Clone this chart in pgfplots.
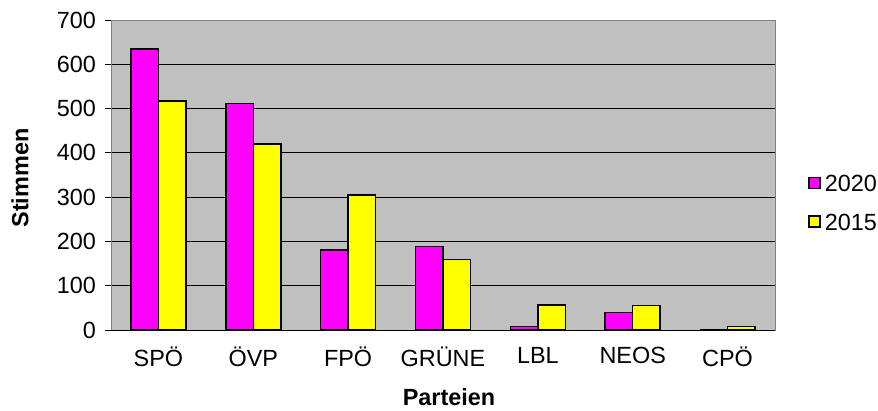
\documentclass[border=0pt]{standalone}
\usepackage{fontspec}
\setmainfont{Liberation Sans}
\usepackage{pgfplots}
\pgfplotsset{compat=1.18}
\definecolor{bgc}{HTML}{C0C0C0}
\definecolor{mag}{HTML}{FF00FF}
\definecolor{yel}{HTML}{FFFF00}
\begin{document}
\fontsize{23.5}{27}\selectfont
\begin{tikzpicture}
\begin{axis}[
  at={(0,0)}, anchor=south west,
  scale only axis, width=664bp, height=310bp,
  ybar=0pt, bar width=27.5bp,
  xmin=-0.5, xmax=6.5, ymin=0, ymax=700,
  xtick={0,...,6},
  xticklabels={SPÖ,ÖVP,FPÖ,GRÜNE,LBL,NEOS,CPÖ},
  major x tick style={draw=none},
  extra x ticks={-0.5,0.5,...,6.5},
  extra x tick labels={},
  extra x tick style={major tick length=6bp, tick style={black,line width=0.8pt}, grid=none},
  ytick={0,100,...,700},
  ymajorgrids,
  grid style={black, line width=0.8pt},
  tick align=outside, xtick pos=bottom, ytick pos=left,
  major tick length=6bp,
  tick style={black, line width=0.8pt},
  axis background/.style={fill=bgc},
  axis line style={gray, line width=0.8pt},
  /pgf/number format/assume math mode=true,
  tick label style={font=\fontsize{23.5}{27}\selectfont},
  xticklabel style={yshift=-3bp},
  yticklabel style={xshift=-1bp},
  ylabel={Stimmen}, xlabel={Parteien},
  label style={font=\bfseries\fontsize{23.5}{27}\selectfont},
  ylabel style={at={(axis description cs:-0.137,0.49)}, anchor=center},
  xlabel style={at={(axis description cs:0.509,-0.216)}, anchor=center},
  legend image code/.code={\draw[#1,line width=1.4bp] (0bp,-5bp) rectangle (11bp,6bp);},
  legend style={at={(axis description cs:1.05,0.41)}, anchor=west, draw=none, fill=none,
    font=\fontsize{23.5}{27}\selectfont, row sep=22bp, inner sep=0pt,
    nodes={inner sep=0bp, text depth=0bp},
    /tikz/every odd column/.style={column sep=4bp}},
  legend cell align=left,
]
\addplot[fill=mag, draw=black, line width=1.5bp] coordinates {(0,635) (1,511) (2,181) (3,188) (4,8) (5,39) (6,0)};
\addplot[fill=yel, draw=black, line width=1.5bp] coordinates {(0,517) (1,420) (2,305) (3,159) (4,56) (5,55) (6,8)};
\legend{2020,2015}
\draw[black, line width=0.8pt] (rel axis cs:0,0) -- (rel axis cs:1,0);
\end{axis}
\pgfresetboundingbox
\path[use as bounding box] (-111bp,-81bp) rectangle (767bp,330bp);
\end{tikzpicture}
\end{document}
